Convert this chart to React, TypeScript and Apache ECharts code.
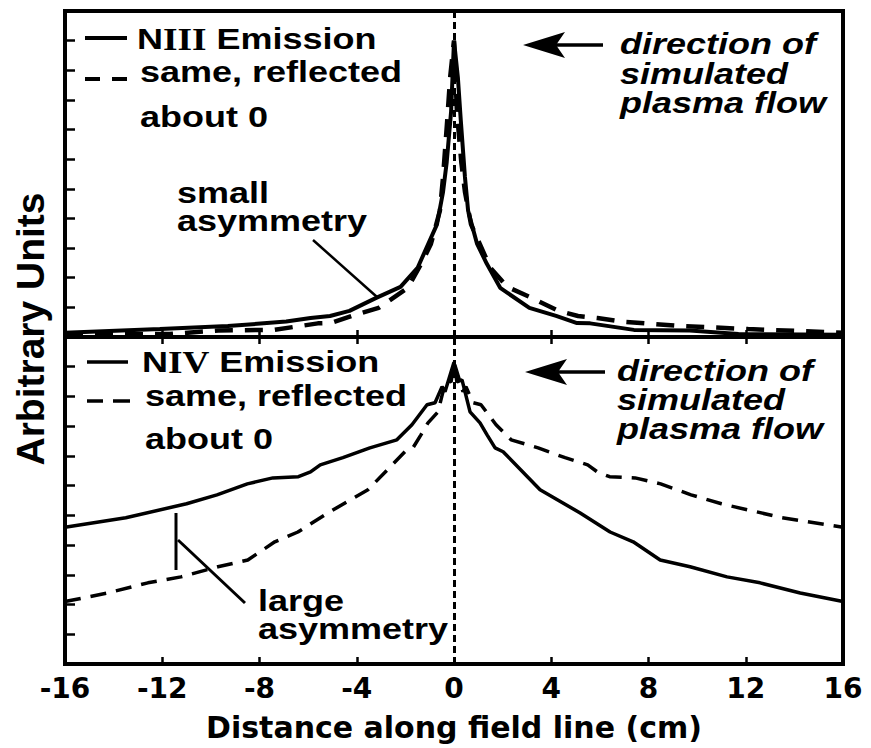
import React, { useEffect, useRef } from "react";
import * as echarts from "echarts";

// ---- data ----
const X_MIN = -16;
const X_MAX = 16;
const X_STEP = 4;
const Y_MAX = 11;

// N III emission (top panel), distance (cm) vs arbitrary units
const NIII_X = [-16, -12.1, -9.3, -6.9, -5.9, -5.1, -4.3, -3.2, -2.2, -1.5, -0.7, -0.45, -0.3, -0.12, 0, 0.16, 0.28, 0.45, 0.58, 0.95, 1.35, 1.9, 3.1, 4.2, 5.06, 5.6, 7.4, 9.7, 11.7, 16];
const NIII_Y = [0.14, 0.27, 0.37, 0.52, 0.64, 0.71, 0.88, 1.32, 1.69, 2.33, 3.8, 4.9, 5.9, 7.6, 10.0, 8.75, 7.3, 5.4, 4.26, 3.14, 2.47, 1.66, 0.98, 0.71, 0.47, 0.46, 0.24, 0.22, 0.1, 0.08];

// N IV emission (bottom panel)
const NIV_X = [-16, -13.5, -11.0, -9.75, -8.5, -7.45, -6.4, -5.9, -5.5, -4.57, -3.46, -2.35, -1.73, -1.11, -0.78, -0.49, -0.37, 0, 0.12, 0.33, 0.66, 1.07, 1.36, 1.69, 2.02, 3.54, 5.19, 6.42, 7.37, 8.48, 9.71, 11.23, 12.59, 14.24, 16];
const NIV_Y = [4.6, 4.92, 5.39, 5.69, 6.06, 6.26, 6.3, 6.46, 6.7, 6.94, 7.27, 7.54, 8.05, 8.72, 8.79, 9.33, 9.16, 10.15, 9.49, 9.56, 8.48, 8.11, 7.71, 7.27, 7.14, 5.86, 5.08, 4.44, 4.11, 3.5, 3.27, 2.93, 2.73, 2.39, 2.1];

const TOP_LEGEND = ["N", "III", " Emission"];
const BOT_LEGEND = ["N", "IV", " Emission"];
const REFLECT_LABEL = ["same, reflected", "about 0"];
const FLOW_LABEL = ["direction of", "simulated", "plasma flow"];
const X_NAME = "Distance along field line (cm)";
const Y_NAME = "Arbitrary Units";

const pts = (xs: number[], ys: number[]) => xs.map((x, i) => [x, ys[i]]);
const reflected = (xs: number[], ys: number[]) => xs.map((x, i) => [-x, ys[i]]).reverse();

const SANS = "Liberation Sans";
const txt = (text: string, x: number, y: number, italic = false, size = 30) => ({
  type: "text",
  x,
  y,
  scaleX: 1.2,
  z: 100,
  style: {
    text,
    fontFamily: SANS,
    fontWeight: "bold",
    fontStyle: italic ? "italic" : "normal",
    fontSize: size,
    fill: "#000",
    align: "left",
    verticalAlign: "middle",
  },
});
const richLegend = (parts: string[], x: number, y: number) => ({
  type: "text",
  x,
  y,
  scaleX: 1.2,
  z: 100,
  style: {
    text: `{s|${parts[0]}}{r|${parts[1]}}{s|${parts[2]}}`,
    fill: "#000",
    align: "left",
    verticalAlign: "middle",
    rich: {
      s: { fontFamily: SANS, fontWeight: "bold", fontSize: 30, fill: "#000" },
      r: { fontFamily: "Liberation Serif", fontWeight: "bold", fontSize: 31, fill: "#000" },
    },
  },
});
const seg = (x1: number, y1: number, x2: number, y2: number, w = 3) => ({
  type: "line",
  z: 100,
  shape: { x1, y1, x2, y2 },
  style: { stroke: "#000", lineWidth: w },
});
const arrow = (tipX: number, y: number) => [
  seg(tipX + 27, y, tipX + 80, y, 3.5),
  {
    type: "polygon",
    z: 100,
    shape: { points: [[tipX, y], [tipX + 42, y - 13], [tipX + 33, y], [tipX + 42, y + 13]] },
    style: { fill: "#000" },
  },
];

export default function App() {
  const ref = useRef<HTMLDivElement>(null);
  useEffect(() => {
    if (!ref.current) return;
    const chart = echarts.init(ref.current, undefined, { renderer: "svg" });
    const tickStyle = { color: "#000", width: 2.5 };
    const xBase = {
      type: "value",
      min: X_MIN,
      max: X_MAX,
      interval: X_STEP,
      axisLine: { show: false, onZero: false },
      splitLine: { show: false },
      axisTick: { show: true, inside: true, length: 7, lineStyle: tickStyle },
      axisLabel: { show: false },
    };
    const yBase = {
      type: "value",
      min: 0,
      max: Y_MAX,
      interval: 1,
      position: "left",
      axisLine: { show: false, onZero: false },
      splitLine: { show: false },
      axisTick: { show: true, inside: true, length: 10, lineStyle: tickStyle },
      axisLabel: { show: false },
    };
    const zeroLine = {
      silent: true,
      symbol: ["none", "none"],
      label: { show: false },
      lineStyle: { color: "#000", width: 3, type: [7, 4] },
      data: [{ xAxis: 0 }],
    };
    chart.setOption({
      animation: false,
      backgroundColor: "#fff",
      grid: [
        { left: 65, right: 28, top: 11, height: 326, show: true, borderColor: "#000", borderWidth: 4 },
        { left: 65, right: 28, top: 337, height: 327, show: true, borderColor: "#000", borderWidth: 4 },
      ],
      xAxis: [
        { ...xBase, gridIndex: 0, position: "bottom" },
        {
          ...xBase,
          gridIndex: 1,
          position: "bottom",
          axisLabel: {
            show: true,
            color: "#000",
            fontFamily: "DejaVu Sans",
            fontWeight: "bold",
            fontSize: 28,
            margin: 10,
          },
          name: X_NAME,
          nameLocation: "middle",
          nameGap: 48,
          nameTextStyle: { color: "#000", fontFamily: "DejaVu Sans", fontWeight: "bold", fontSize: 30 },
        },
        { ...xBase, gridIndex: 1, position: "top" },
      ],
      yAxis: [
        { ...yBase, gridIndex: 0 },
        { ...yBase, gridIndex: 1 },
      ],
      series: [
        {
          name: "NIII Emission",
          type: "line",
          xAxisIndex: 0,
          yAxisIndex: 0,
          data: pts(NIII_X, NIII_Y),
          showSymbol: false,
          lineStyle: { color: "#000", width: 4 },
          markLine: zeroLine,
          z: 3,
        },
        {
          name: "NIII reflected",
          type: "line",
          xAxisIndex: 0,
          yAxisIndex: 0,
          data: reflected(NIII_X, NIII_Y),
          showSymbol: false,
          lineStyle: { color: "#000", width: 4.5, type: [18, 12] },
          z: 2,
        },
        {
          name: "NIV Emission",
          type: "line",
          xAxisIndex: 1,
          yAxisIndex: 1,
          data: pts(NIV_X, NIV_Y),
          showSymbol: false,
          lineStyle: { color: "#000", width: 3.5 },
          markLine: zeroLine,
          z: 3,
        },
        {
          name: "NIV reflected",
          type: "line",
          xAxisIndex: 1,
          yAxisIndex: 1,
          data: reflected(NIV_X, NIV_Y),
          showSymbol: false,
          lineStyle: { color: "#000", width: 3.5, type: [16, 10] },
          z: 2,
        },
      ],
      graphic: [
        // y axis title
        {
          type: "text",
          x: 30,
          y: 329,
          rotation: Math.PI / 2,
          z: 100,
          style: {
            text: Y_NAME,
            fontFamily: SANS,
            fontWeight: "bold",
            fontSize: 39,
            fill: "#000",
            align: "center",
            verticalAlign: "middle",
          },
        },
        // top legend
        seg(85, 38, 127, 38, 4),
        richLegend(TOP_LEGEND, 137, 39),
        seg(85, 79, 100, 79, 4),
        seg(112, 79, 127, 79, 4),
        txt(REFLECT_LABEL[0], 140, 72),
        txt(REFLECT_LABEL[1], 140, 117),
        txt("small", 177, 193),
        txt("asymmetry", 177, 221),
        seg(313, 240, 377, 297, 2.5),
        ...arrow(523, 45),
        txt(FLOW_LABEL[0], 620, 44, true),
        txt(FLOW_LABEL[1], 620, 74, true),
        txt(FLOW_LABEL[2], 620, 103, true),
        // bottom legend
        seg(87, 362, 128, 362, 3.5),
        richLegend(BOT_LEGEND, 142, 362),
        seg(87, 401, 103, 401, 3.5),
        seg(113, 401, 130, 401, 3.5),
        txt(REFLECT_LABEL[0], 145, 396),
        txt(REFLECT_LABEL[1], 145, 439),
        txt("large", 258, 601),
        txt("asymmetry", 258, 629),
        seg(176, 513, 176, 570, 3),
        seg(178, 540, 245, 603, 3),
        ...arrow(525, 372),
        txt(FLOW_LABEL[0], 617, 371, true),
        txt(FLOW_LABEL[1], 617, 400, true),
        txt(FLOW_LABEL[2], 617, 429, true),
      ],
    });
    return () => chart.dispose();
  }, []);
  return <div ref={ref} style={{ width: 871, height: 748, position: "absolute", left: 0, top: 0 }} />;
}
